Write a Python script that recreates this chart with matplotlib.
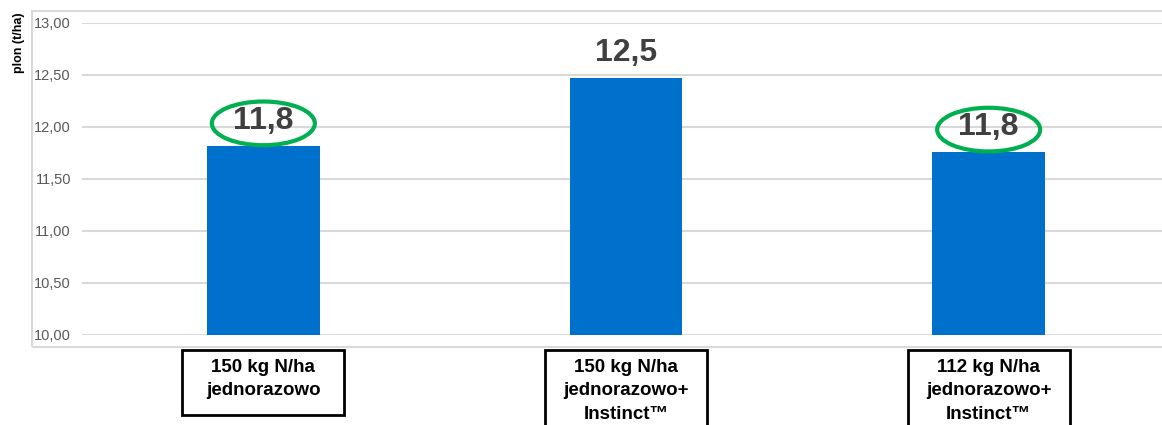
import numpy as np
import matplotlib.pyplot as plt
from matplotlib.patches import Ellipse, Rectangle
from matplotlib.ticker import FuncFormatter

plt.rcParams['font.family'] = ['Liberation Sans', 'DejaVu Sans']

categories = ['150 kg N/ha\njednorazowo',
              '150 kg N/ha\njednorazowo+\nInstinct\u2122',
              '112 kg N/ha\njednorazowo+\nInstinct\u2122']
values = [11.82, 12.47, 11.76]
value_labels = ['11,8', '12,5', '11,8']
circled = [True, False, True]

fig = plt.figure(figsize=(11.62, 4.25), dpi=100)
W, H = 1162, 425

# outer chart border
fig.patches.append(Rectangle((32 / W, 1 - 347 / H), 1.2, (347 - 11) / H,
                             transform=fig.transFigure, fill=False,
                             edgecolor='#d9d9d9', linewidth=1.5, zorder=0))

ax = fig.add_axes([82 / W, 1 - 335 / H, (1170 - 82) / W, (335 - 23) / H])
x = np.arange(len(categories))
ax.bar(x, values, width=0.31, color='#0070cd', zorder=3)

ax.set_xlim(-0.5, 2.5)
ax.set_ylim(10, 13)
ax.set_yticks(np.arange(10, 13.01, 0.5))
ax.yaxis.set_major_formatter(FuncFormatter(lambda v, p: f'{v:.2f}'.replace('.', ',')))
ax.tick_params(axis='y', length=0, pad=8, labelsize=10.5, labelcolor='#595959')
ax.set_xticks([])
ax.grid(axis='y', color='#d9d9d9', linewidth=1.5, zorder=0)
for s in ax.spines.values():
    s.set_visible(False)

for i, v in enumerate(values):
    ax.text(x[i], v + 0.24, value_labels[i], ha='center', va='center',
            fontsize=23, fontweight='bold', color='#404040', zorder=5)
    if circled[i]:
        ax.add_patch(Ellipse((x[i], v + 0.215), 0.284, 0.42, fill=False,
                             edgecolor='#00b050', linewidth=3, zorder=6))

# category labels in boxes below axes
for i, lab in enumerate(categories):
    nlines = lab.count('\n') + 1
    box_h = (65 + (nlines - 2) * 23) / 312
    ax.add_patch(Rectangle((x[i] - 0.223, -0.048 - box_h), 0.446, box_h,
                           transform=ax.get_xaxis_transform(), fill=False,
                           edgecolor='black', linewidth=2, clip_on=False))
    ax.text(x[i], -0.048 - 9 / 312, lab, transform=ax.get_xaxis_transform(),
            ha='center', va='top', fontsize=13.5, fontweight='bold',
            linespacing=1.5, color='black')

fig.text(19 / W, 1 - 43 / H, 'plon (t/ha)', rotation=90, ha='center',
         va='center', fontsize=9, fontweight='bold')

fig.savefig('out.png', dpi=100)
